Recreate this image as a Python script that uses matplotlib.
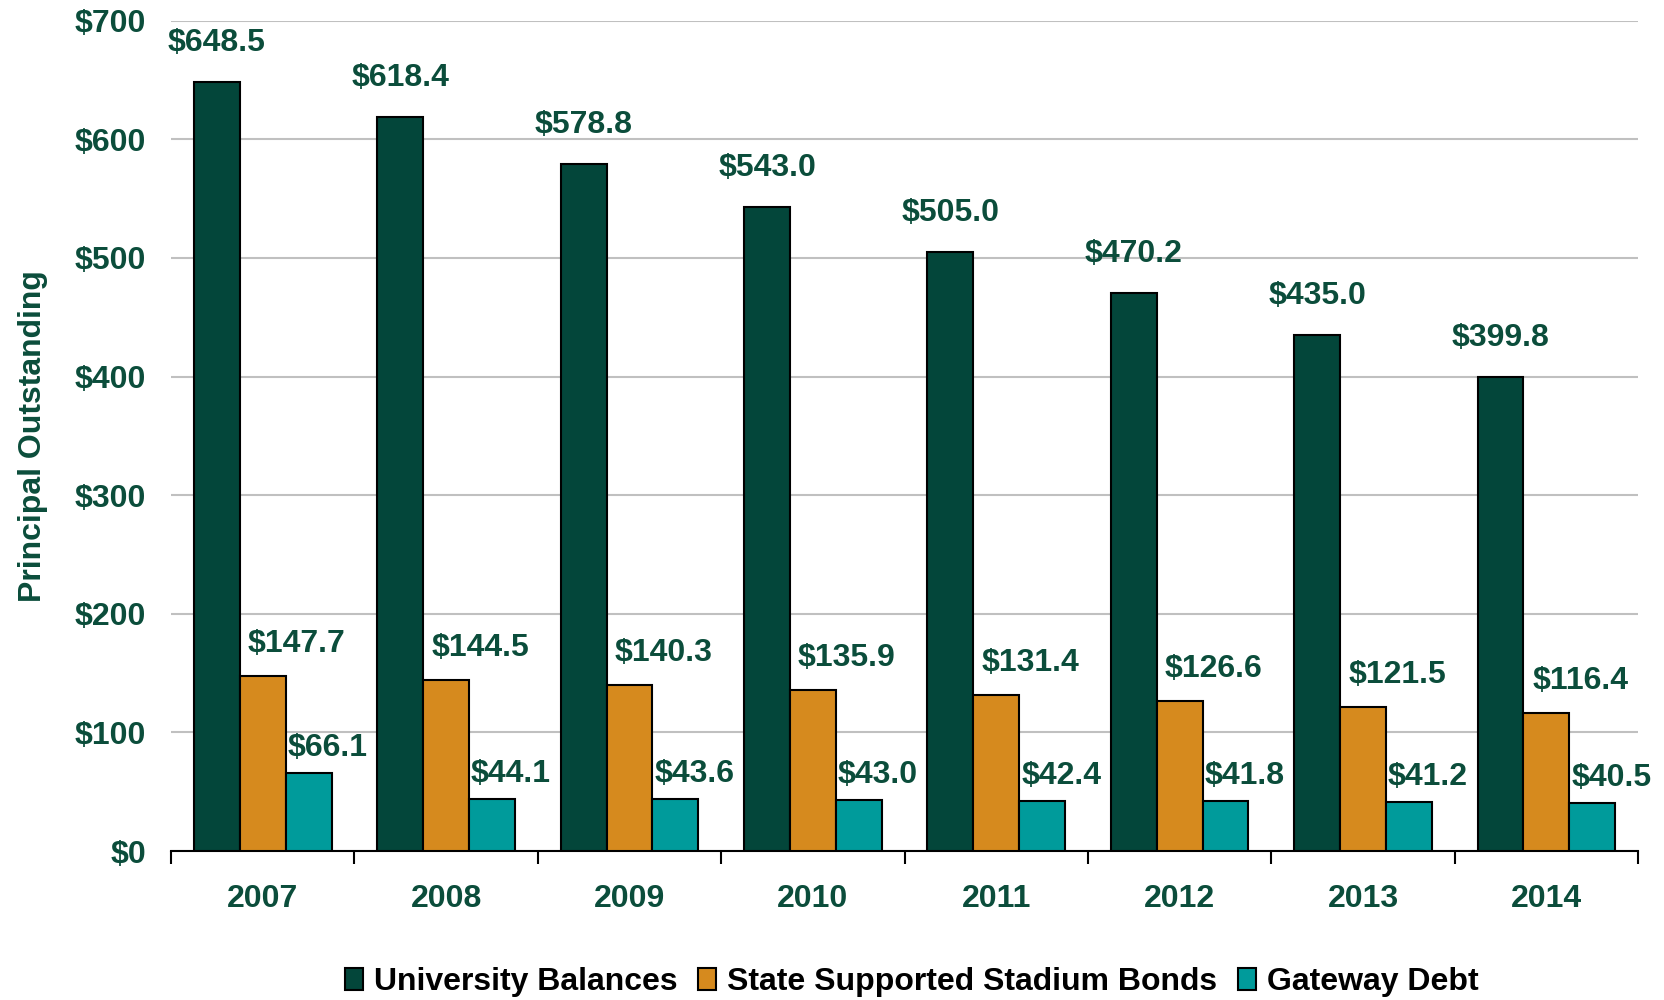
import matplotlib
matplotlib.use("Agg")
import matplotlib.pyplot as plt
import numpy as np

years = ["2007", "2008", "2009", "2010", "2011", "2012", "2013", "2014"]
university = [648.5, 618.4, 578.8, 543.0, 505.0, 470.2, 435.0, 399.8]
stadium = [147.7, 144.5, 140.3, 135.9, 131.4, 126.6, 121.5, 116.4]
gateway = [66.1, 44.1, 43.6, 43.0, 42.4, 41.8, 41.2, 40.5]
series_names = ["University Balances", "State Supported Stadium Bonds", "Gateway Debt"]
yticks = [0, 100, 200, 300, 400, 500, 600, 700]

plt.rcParams['font.family'] = ['Liberation Sans', 'DejaVu Sans']
plt.rcParams['font.weight'] = 'bold'

txt = "#0B4D3B"
colors = ["#03463A", "#D68A1E", "#009B9B"]
fs = 23

fig = plt.figure(figsize=(16.64, 10), dpi=100)
ax = fig.add_axes([0.1028, 0.149, 0.8816, 0.8303])

x = np.arange(len(years))
w = 0.25
series = [university, stadium, gateway]
label_dx = [0, 34, 19]
label_dy = [24, 17, 10]
for i, (vals, c, name) in enumerate(zip(series, colors, series_names)):
    pos = x + (i - 1) * w
    ax.bar(pos, vals, width=w, color=c, edgecolor="black", linewidth=1.5,
           label=name, zorder=3)
    for xp, v in zip(pos, vals):
        ax.annotate(f"${v:.1f}", (xp, v), xytext=(label_dx[i], label_dy[i]),
                    textcoords="offset pixels", ha="center", va="bottom",
                    fontsize=fs, fontweight="bold", color=txt)

ax.set_xlim(-0.5, len(years) - 0.5)
ax.set_ylim(0, 700)
ax.set_yticks(yticks)
ax.set_yticklabels([f"${t}" for t in yticks], fontsize=fs, fontweight="bold", color=txt)
ax.tick_params(axis="y", length=0, pad=18)
ax.yaxis.grid(True, color="#C0C0C0", linewidth=1.5, zorder=0)
ax.set_axisbelow(True)

ax.set_xticks(np.arange(len(years) + 1) - 0.5)
ax.set_xticklabels([])
ax.tick_params(axis="x", which="major", length=9, width=1.5, color="black")
ax.set_xticks(x, minor=True)
ax.set_xticklabels(years, minor=True, fontsize=fs, fontweight="bold", color=txt)
ax.tick_params(axis="x", which="minor", length=0, pad=24)

for s in ["left", "right", "top"]:
    ax.spines[s].set_visible(False)
ax.spines["bottom"].set_linewidth(1.5)

ax.set_ylabel("Principal Outstanding", fontsize=fs, fontweight="bold", color=txt)
ax.yaxis.set_label_coords(-0.084, 0.5)

leg = fig.legend(loc="center", bbox_to_anchor=(0.548, 0.018), ncol=3, frameon=False,
                 prop={"size": fs, "weight": "bold"}, handlelength=0.56, handleheight=0.7,
                 handletextpad=0.35, columnspacing=0.65)

fig.savefig("out.png", dpi=100)
